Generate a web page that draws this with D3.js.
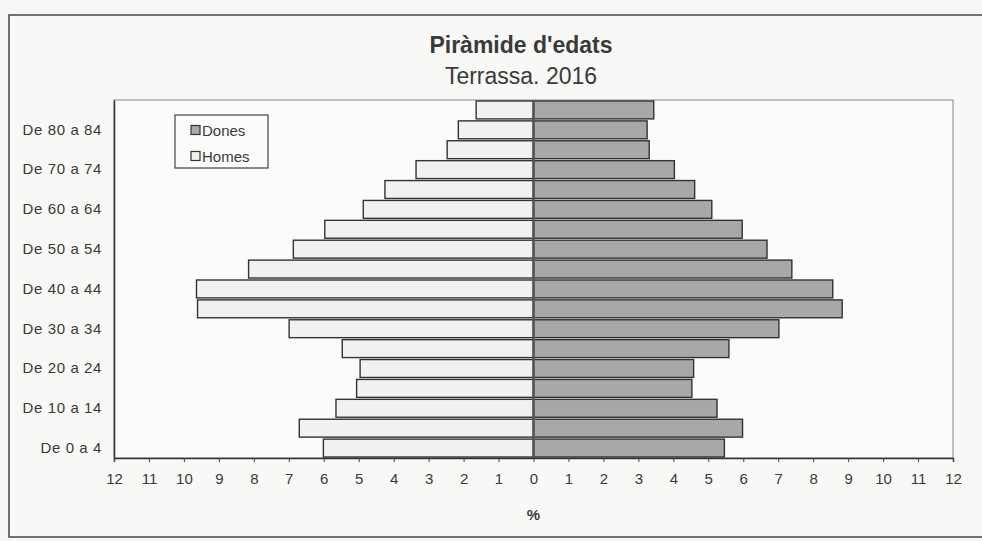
<!DOCTYPE html>
<html>
<head>
<meta charset="utf-8">
<script src="https://cdn.jsdelivr.net/npm/d3@7"></script>
<style>
  body { margin: 0; background: #f6f6f4; }
  svg { display: block; font-family: "Liberation Sans", Arial, sans-serif; }
</style>
</head>
<body>
<svg class="pyramid" width="982" height="541"></svg>
<script>
// age groups, top to bottom
const ageGroups = ["85+", "De 80 a 84", "75-79", "De 70 a 74", "65-69", "De 60 a 64", "55-59", "De 50 a 54",
  "45-49", "De 40 a 44", "35-39", "De 30 a 34", "25-29", "De 20 a 24", "15-19", "De 10 a 14", "5-9", "De 0 a 4"];
// only every other label is printed
const shownLabels = ["De 80 a 84", "De 70 a 74", "De 60 a 64", "De 50 a 54", "De 40 a 44",
  "De 30 a 34", "De 20 a 24", "De 10 a 14", "De 0 a 4"];
const homes = [1.64, 2.15, 2.47, 3.36, 4.25, 4.87, 5.97, 6.87, 8.15, 9.64, 9.61, 6.99, 5.47, 4.96, 5.06, 5.65, 6.70, 6.01];
const dones = [3.44, 3.25, 3.31, 4.03, 4.61, 5.10, 5.97, 6.68, 7.39, 8.56, 8.83, 7.02, 5.59, 4.58, 4.53, 5.25, 5.98, 5.46];
const xTicks = d3.range(-12, 13);

const svg = d3.select(".pyramid");
const plotLeft = 114, plotRight = 953, plotTop = 100, plotBottom = 458;

// outer frame
svg.append("rect")
  .attr("x", 9).attr("y", 15).attr("width", 975).attr("height", 522)
  .attr("fill", "#f8f8f6").attr("stroke", "#444").attr("stroke-width", 1.5);

svg.append("text").attr("x", 521).attr("y", 53).attr("text-anchor", "middle")
  .attr("font-size", 23).attr("font-weight", "bold").attr("fill", "#3a3a3a")
  .text("Piràmide d'edats");
svg.append("text").attr("x", 521).attr("y", 84).attr("text-anchor", "middle")
  .attr("font-size", 23).attr("fill", "#3a3a3a")
  .text("Terrassa. 2016");

const x = d3.scaleLinear().domain([-12, 12]).range([plotLeft, plotRight]);
const y = d3.scaleBand().domain(ageGroups).range([plotTop, plotBottom]).paddingInner(0.1).paddingOuter(0.05);

// plot area
svg.append("rect")
  .attr("x", plotLeft).attr("y", plotTop).attr("width", plotRight - plotLeft).attr("height", plotBottom - plotTop)
  .attr("fill", "#fbfbfa").attr("stroke", "#888").attr("stroke-width", 1);

const g = svg.append("g");
g.selectAll(".homes")
  .data(homes)
  .join("rect")
  .attr("class", "homes")
  .attr("x", d => x(-d))
  .attr("y", (d, i) => y(ageGroups[i]))
  .attr("width", d => x(0) - x(-d))
  .attr("height", y.bandwidth())
  .attr("fill", "#f1f1f0")
  .attr("stroke", "#333").attr("stroke-width", 1.4);

g.selectAll(".dones")
  .data(dones)
  .join("rect")
  .attr("class", "dones")
  .attr("x", x(0))
  .attr("y", (d, i) => y(ageGroups[i]))
  .attr("width", d => x(d) - x(0))
  .attr("height", y.bandwidth())
  .attr("fill", "#a8a8a8")
  .attr("stroke", "#333").attr("stroke-width", 1.4);

// zero line
svg.append("line")
  .attr("x1", x(0)).attr("x2", x(0)).attr("y1", plotTop).attr("y2", plotBottom)
  .attr("stroke", "#555").attr("stroke-width", 2.5);

// x axis
const xAxis = svg.append("g")
  .attr("transform", `translate(0,${plotBottom})`)
  .call(d3.axisBottom(x).tickValues(xTicks).tickFormat(d => Math.abs(d)).tickSize(4).tickPadding(11));
xAxis.select(".domain").attr("stroke", "#333").attr("stroke-width", 1.5);
xAxis.selectAll(".tick line").attr("stroke", "#444");
xAxis.selectAll("text").attr("font-size", 15).attr("fill", "#3a3a3a");

// y axis labels
const yAxis = svg.append("g")
  .attr("transform", `translate(${plotLeft},0)`)
  .call(d3.axisLeft(y).tickValues(shownLabels).tickSize(0).tickPadding(12));
yAxis.select(".domain").attr("stroke", "#333").attr("stroke-width", 1.5);
yAxis.selectAll("text").attr("font-size", 15).attr("letter-spacing", 0.6).attr("fill", "#3a3a3a");

svg.append("text").attr("x", x(0)).attr("y", 520).attr("text-anchor", "middle")
  .attr("font-size", 15).attr("font-weight", "bold").attr("fill", "#3a3a3a").text("%");

// legend
const legend = svg.append("g").attr("transform", "translate(175,115)");
legend.append("rect").attr("width", 93).attr("height", 53)
  .attr("fill", "#fbfbfa").attr("stroke", "#444").attr("stroke-width", 1.2);
const legendItems = [{ name: "Dones", fill: "#a8a8a8" }, { name: "Homes", fill: "#f1f1f0" }];
legendItems.forEach((d, i) => {
  const row = legend.append("g").attr("transform", `translate(16,${15 + i * 26})`);
  row.append("rect").attr("x", 0).attr("y", -4.5).attr("width", 9).attr("height", 9)
    .attr("fill", d.fill).attr("stroke", "#333").attr("stroke-width", 1.2);
  row.append("text").attr("x", 11).attr("y", 5.5).attr("font-size", 15).attr("fill", "#3a3a3a").text(d.name);
});
</script>
</body>
</html>
